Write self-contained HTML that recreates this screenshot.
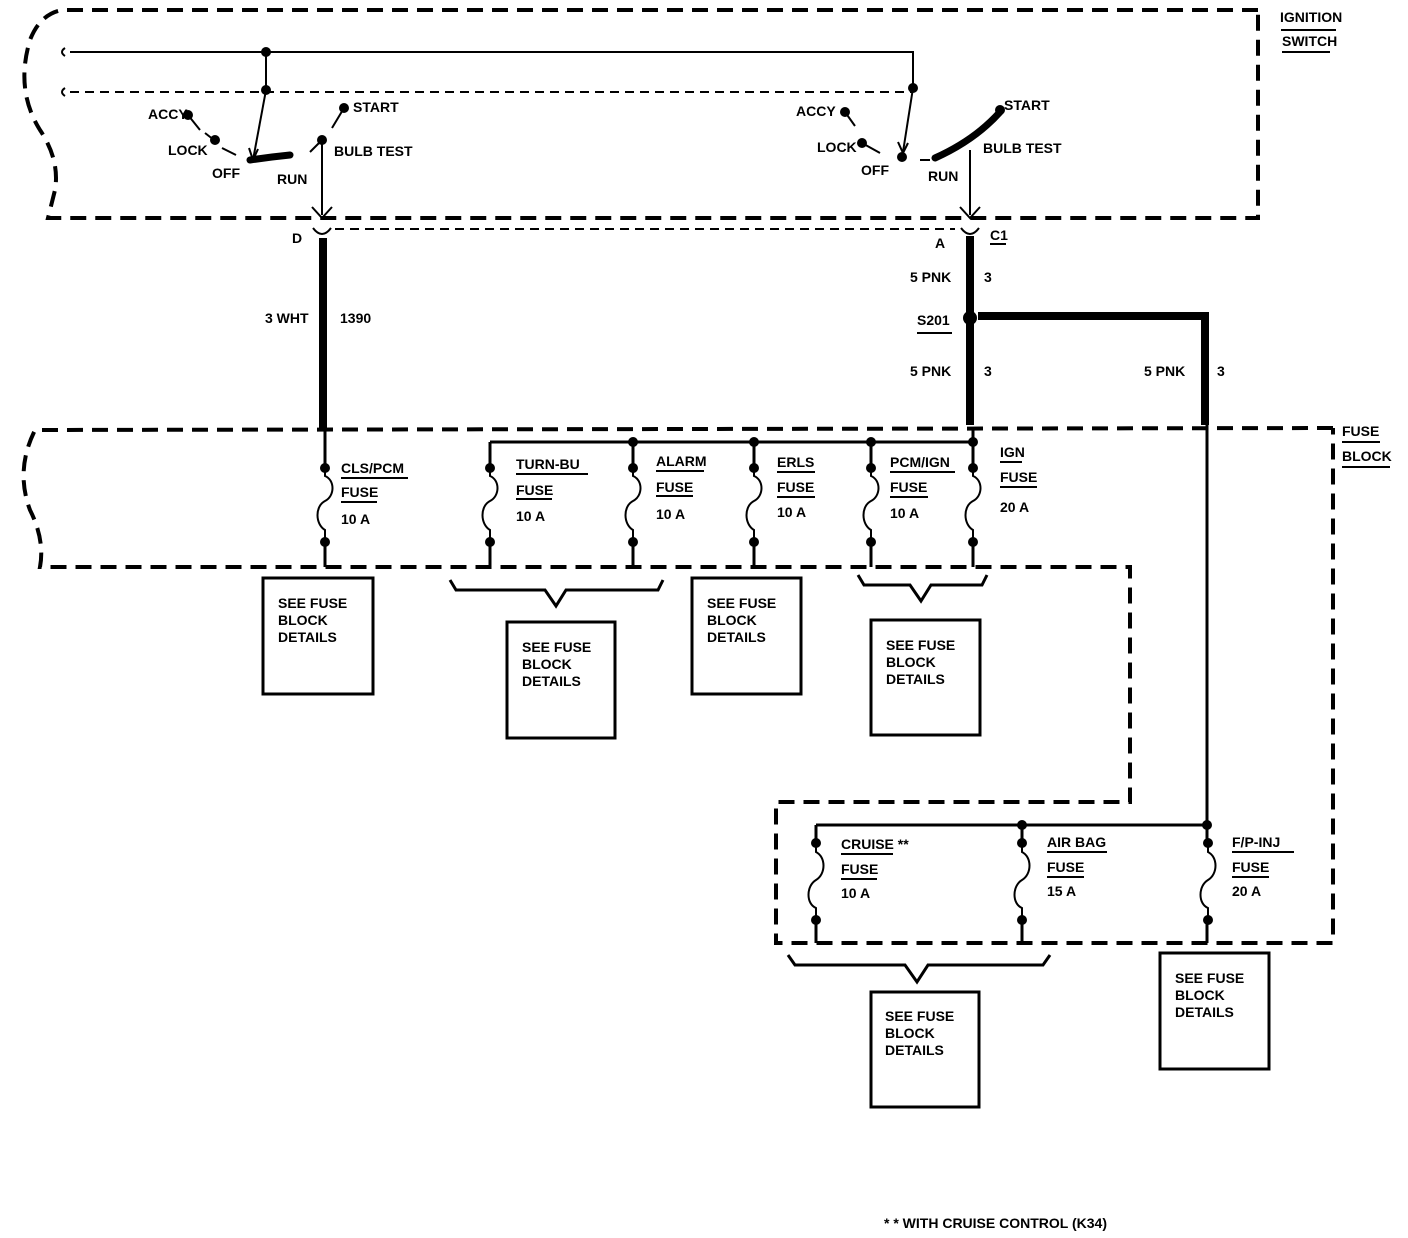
<!DOCTYPE html>
<html><head><meta charset="utf-8"><style>
html,body{margin:0;padding:0;background:#fff;}
svg{display:block;}
text{font-family:"Liberation Sans Narrow","Liberation Sans",sans-serif;font-size:14px;font-weight:bold;fill:#000;}
</style></head><body>
<svg width="1408" height="1238" viewBox="0 0 1408 1238" xmlns="http://www.w3.org/2000/svg">
<g fill="none" stroke="#000">
<!-- Ignition switch box -->
<g stroke-width="4" stroke-dasharray="16,9">
<path d="M1258 10 L62 10 Q40 14 30 40 Q15 90 40 130 Q60 160 55 190 L48 218 L1258 218 L1258 10"/>
</g>
<!-- Fuse block outline -->
<g stroke-width="4" stroke-dasharray="16,9">
<path d="M1333 428 L35 430 Q15 470 30 510 Q45 540 40 567 L1130 567 L1130 802 L776 802 L776 943 L1333 943 L1333 428"/>
</g>
<!-- thin wires -->
<g stroke-width="2">
<path d="M70 52 L913 52 L913 88"/>
<path d="M266 52 L266 90"/>
<path d="M65 48 q-6 4 0 8 M65 88 q-6 4 0 8"/>
<path d="M266 90 L253 160"/>
<path d="M913 88 L903 152"/>
<path d="M322 140 L322 215"/>
<path d="M970 150 L970 215"/>
<path d="M188 115 L200 130 M205 133 L214 140 M222 148 L236 155"/>
<path d="M322 140 L310 152 M344 108 L332 128"/>
<path d="M845 112 L855 126 M862 143 L880 153 M920 160 L930 160"/>
<path d="M312 207 L322 218 L332 207 M960 207 L970 218 L980 207"/>
<path d="M313 228 Q322 240 331 228 M961 228 Q970 240 979 228"/>
<path d="M249 148 L253 160 L258 149 M898 142 L903 153 L908 143"/>
</g>
<path d="M70 92 L913 92 M335 229 L955 229" stroke-width="2" stroke-dasharray="9,6"/>
<!-- thick wires -->
<g stroke-width="7" stroke-linecap="round">
<path d="M250 160 Q270 157 290 155"/>
<path d="M935 158 Q975 140 1000 112"/>
</g>
<g stroke-width="8">
<path d="M323 238 L323 430"/>
<path d="M970 236 L970 425"/>
<path d="M978 316 L1205 316 L1205 425"/>
</g>
<!-- Fuse block top row wires -->
<g stroke-width="3">
<path d="M490 442 L973 442"/>
<path d="M490 442 L490 468 M633 442 L633 468 M754 442 L754 468 M871 442 L871 468 M973 430 L973 468 M325 430 L325 468"/>
<path d="M325 542 L325 567 M490 542 L490 567 M633 542 L633 567 M754 542 L754 567 M871 542 L871 567 M973 542 L973 567"/>
<path d="M1207 425 L1207 843"/>
<path d="M816 825 L1207 825 M816 825 L816 843 M1022 825 L1022 843"/>
<path d="M816 920 L816 943 M1022 920 L1022 943 M1207 920 L1207 943"/>
</g>
<g stroke-width="2">
<path d="M325 468 L325 476 C335 480,335 496,325 501 C315 506,315 524,325 530 L325 542"/>
<path d="M490 468 L490 476 C500 480,500 496,490 501 C480 506,480 524,490 530 L490 542"/>
<path d="M633 468 L633 476 C643 480,643 496,633 501 C623 506,623 524,633 530 L633 542"/>
<path d="M754 468 L754 476 C764 480,764 496,754 501 C744 506,744 524,754 530 L754 542"/>
<path d="M871 468 L871 476 C881 480,881 496,871 501 C861 506,861 524,871 530 L871 542"/>
<path d="M973 468 L973 476 C983 480,983 496,973 501 C963 506,963 524,973 530 L973 542"/>
<path d="M816 843 L816 852 C826 857,826 874,816 880 C806 886,806 904,816 908 L816 920"/>
<path d="M1022 843 L1022 852 C1032 857,1032 874,1022 880 C1012 886,1012 904,1022 908 L1022 920"/>
<path d="M1208 843 L1208 852 C1218 857,1218 874,1208 880 C1198 886,1198 904,1208 908 L1208 920"/>
</g>
<!-- braces -->
<g stroke-width="3">
<path d="M450 580 L456 590 L545 590 L556 606 L566 590 L658 590 L663 580"/>
<path d="M858 575 L864 585 L910 585 L921 601 L931 585 L982 585 L987 575"/>
<path d="M788 955 L795 965 L905 965 L917 982 L928 965 L1043 965 L1050 955"/>
</g>
<!-- boxes -->
<g stroke-width="3">
<rect x="263" y="578" width="110" height="116"/>
<rect x="507" y="622" width="108" height="116"/>
<rect x="692" y="578" width="109" height="116"/>
<rect x="871" y="620" width="109" height="115"/>
<rect x="871" y="992" width="108" height="115"/>
<rect x="1160" y="953" width="109" height="116"/>
</g>
<!-- underlines -->
<g stroke-width="2">
<path d="M1281 30 L1336 30 M1282 52 L1330 52"/>
<path d="M1342 442 L1380 442 M1342 467 L1390 467"/>
<path d="M917 333 L952 333 M990 244 L1006 244"/>
<path d="M341 478 L408 478 M341 502 L377 502"/>
<path d="M516 474 L588 474 M516 499 L552 499"/>
<path d="M656 471 L704 471 M656 496 L693 496"/>
<path d="M777 472 L815 472 M777 497 L815 497"/>
<path d="M890 472 L955 472 M890 497 L928 497"/>
<path d="M1000 462 L1022 462 M1000 487 L1037 487"/>
<path d="M841 854 L893 854 M841 879 L877 879"/>
<path d="M1047 852 L1107 852 M1047 877 L1084 877"/>
<path d="M1232 852 L1294 852 M1232 877 L1269 877"/>
</g>
</g>
<!-- dots -->
<g fill="#000">
<circle cx="266" cy="52" r="5"/><circle cx="266" cy="90" r="5"/><circle cx="913" cy="88" r="5"/>
<circle cx="188" cy="115" r="5"/><circle cx="215" cy="140" r="5"/><circle cx="322" cy="140" r="5"/><circle cx="344" cy="108" r="5"/>
<circle cx="845" cy="112" r="5"/><circle cx="862" cy="143" r="5"/><circle cx="902" cy="157" r="5"/><circle cx="1000" cy="110" r="5"/>
<circle cx="970" cy="318" r="7"/>
<circle cx="633" cy="442" r="5"/><circle cx="754" cy="442" r="5"/><circle cx="871" cy="442" r="5"/><circle cx="973" cy="442" r="5"/>
<circle cx="325" cy="468" r="5"/><circle cx="490" cy="468" r="5"/><circle cx="633" cy="468" r="5"/><circle cx="754" cy="468" r="5"/><circle cx="871" cy="468" r="5"/><circle cx="973" cy="468" r="5"/>
<circle cx="325" cy="542" r="5"/><circle cx="490" cy="542" r="5"/><circle cx="633" cy="542" r="5"/><circle cx="754" cy="542" r="5"/><circle cx="871" cy="542" r="5"/><circle cx="973" cy="542" r="5"/>
<circle cx="1022" cy="825" r="5"/><circle cx="1207" cy="825" r="5"/>
<circle cx="816" cy="843" r="5"/><circle cx="1022" cy="843" r="5"/><circle cx="1208" cy="843" r="5"/>
<circle cx="816" cy="920" r="5"/><circle cx="1022" cy="920" r="5"/><circle cx="1208" cy="920" r="5"/>
</g>
<!-- text -->
<text x="1280" y="22">IGNITION</text><text x="1282" y="46">SWITCH</text>
<text x="148" y="119">ACCY</text><text x="168" y="155">LOCK</text><text x="212" y="178">OFF</text><text x="277" y="184">RUN</text>
<text x="353" y="112">START</text><text x="334" y="156">BULB TEST</text>
<text x="796" y="116">ACCY</text><text x="817" y="152">LOCK</text><text x="861" y="175">OFF</text><text x="928" y="181">RUN</text>
<text x="1004" y="110">START</text><text x="983" y="153">BULB TEST</text>
<text x="292" y="243">D</text><text x="935" y="248">A</text><text x="990" y="240">C1</text>
<text x="265" y="323">3 WHT</text><text x="340" y="323">1390</text>
<text x="910" y="282">5 PNK</text><text x="984" y="282">3</text>
<text x="917" y="325">S201</text>
<text x="910" y="376">5 PNK</text><text x="984" y="376">3</text>
<text x="1144" y="376">5 PNK</text><text x="1217" y="376">3</text>
<text x="1342" y="436">FUSE</text><text x="1342" y="461">BLOCK</text>
<text x="341" y="473">CLS/PCM</text><text x="341" y="497">FUSE</text><text x="341" y="524">10 A</text>
<text x="516" y="469">TURN-BU</text><text x="516" y="495">FUSE</text><text x="516" y="521">10 A</text>
<text x="656" y="466">ALARM</text><text x="656" y="492">FUSE</text><text x="656" y="519">10 A</text>
<text x="777" y="467">ERLS</text><text x="777" y="492">FUSE</text><text x="777" y="517">10 A</text>
<text x="890" y="467">PCM/IGN</text><text x="890" y="492">FUSE</text><text x="890" y="518">10 A</text>
<text x="1000" y="457">IGN</text><text x="1000" y="482">FUSE</text><text x="1000" y="512">20 A</text>
<text x="841" y="849">CRUISE **</text><text x="841" y="874">FUSE</text><text x="841" y="898">10 A</text>
<text x="1047" y="847">AIR BAG</text><text x="1047" y="872">FUSE</text><text x="1047" y="896">15 A</text>
<text x="1232" y="847">F/P-INJ</text><text x="1232" y="872">FUSE</text><text x="1232" y="896">20 A</text>
<g>
<text x="278" y="608">SEE FUSE</text><text x="278" y="625">BLOCK</text><text x="278" y="642">DETAILS</text>
<text x="522" y="652">SEE FUSE</text><text x="522" y="669">BLOCK</text><text x="522" y="686">DETAILS</text>
<text x="707" y="608">SEE FUSE</text><text x="707" y="625">BLOCK</text><text x="707" y="642">DETAILS</text>
<text x="886" y="650">SEE FUSE</text><text x="886" y="667">BLOCK</text><text x="886" y="684">DETAILS</text>
<text x="885" y="1021">SEE FUSE</text><text x="885" y="1038">BLOCK</text><text x="885" y="1055">DETAILS</text>
<text x="1175" y="983">SEE FUSE</text><text x="1175" y="1000">BLOCK</text><text x="1175" y="1017">DETAILS</text>
</g>
<text x="884" y="1228">* * WITH CRUISE CONTROL (K34)</text>
</svg>
</body></html>
